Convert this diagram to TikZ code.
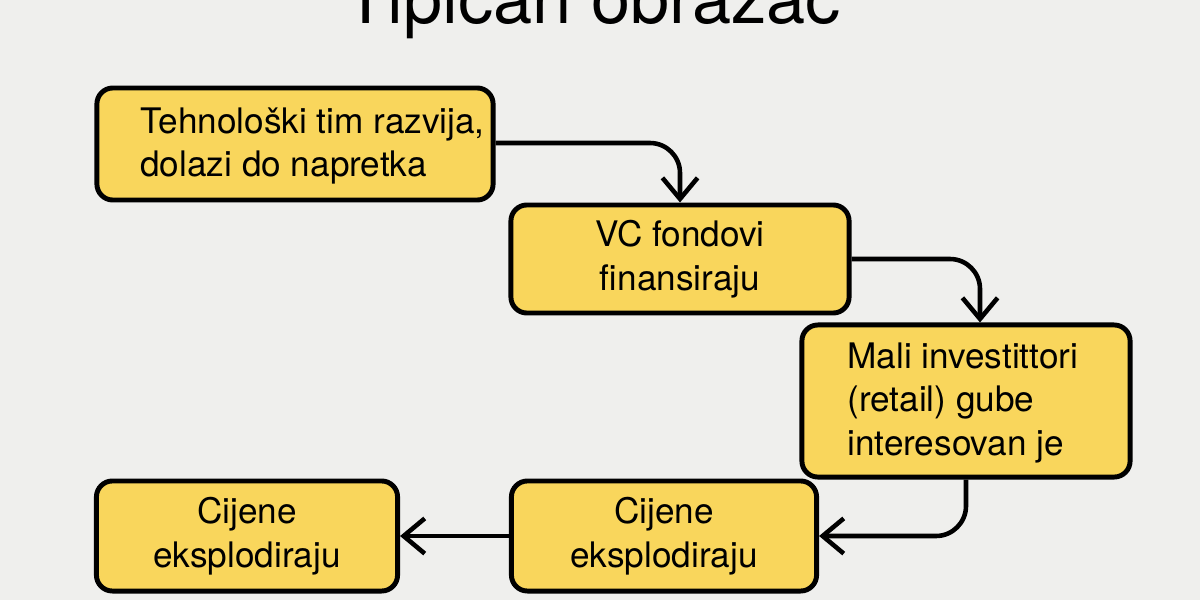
\documentclass[tikz,border=0pt]{standalone}
\usepackage{fontspec}
\setmainfont{TeX Gyre Heros}
\usetikzlibrary{arrows.meta,positioning}
\definecolor{boxfill}{HTML}{F9D65C}
\definecolor{bgcol}{HTML}{EFEFED}
\tikzset{>={Straight Barb[length=6pt,width=10pt,line width=1.3pt]}}
\tikzstyle{stepbox}=[rectangle,draw=black,fill=boxfill,line width=1.4pt,rounded corners=0.16cm,font=\fontsize{10pt}{12.5pt}\selectfont]
\tikzstyle{flow}=[->,line width=1.3pt,rounded corners=0.3cm]

\begin{document}
\begin{tikzpicture}[x=0.01cm,y=-0.01cm]
	\fill[bgcol] (0,0) rectangle (1200,600);
	\useasboundingbox (0,0) rectangle (1200,600);

	\node[font=\fontsize{20pt}{24pt}\selectfont,anchor=base] (title) at (593,24) {Tipičan obrazac};

	\node[stepbox,minimum width=3.96cm,minimum height=1.12cm] (tim) at (295,144) {};
	\node[align=left,anchor=west,font=\fontsize{10pt}{12.5pt}\selectfont] (timtxt) at (128,146) {Tehnološki tim razvija,\\dolazi do napretka};
	\node[stepbox,minimum width=3.38cm,minimum height=1.08cm,align=center] (vc) at (680,259) {VC fondovi\\finansiraju};
	\node[stepbox,minimum width=3.28cm,minimum height=1.52cm] (mali) at (966,401) {};
	\node[align=left,anchor=west,font=\fontsize{10pt}{12.5pt}\selectfont] (malitxt) at (835,403) {Mali investittori\\(retail) gube\\interesovan je};
	\node[stepbox,minimum width=3.05cm,minimum height=1.1cm,align=center] (cij2) at (664,536) {Cijene\\eksplodiraju};
	\node[stepbox,minimum width=3.01cm,minimum height=1.1cm,align=center] (cij1) at (247,536) {Cijene\\eksplodiraju};

	\draw[flow] (tim.east |- 0,143) -| (vc.north);
	\draw[flow] (vc.east) -| (mali.north -| 980,0);
	\draw[flow] (mali.south) |- (cij2.east);
	\draw[flow] (cij2.west) -- (cij1.east);
\end{tikzpicture}
\end{document}
